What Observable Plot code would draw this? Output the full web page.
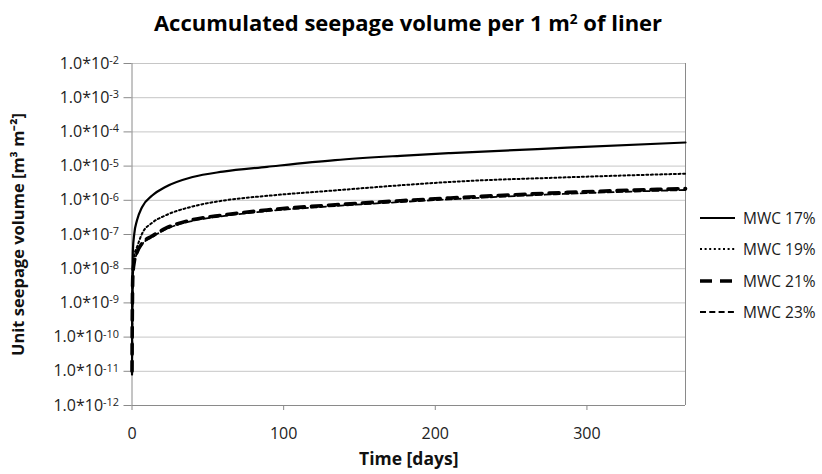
<!DOCTYPE html>
<html><head><meta charset="utf-8">
<script src="https://cdn.jsdelivr.net/npm/d3@7"></script>
<script src="https://cdn.jsdelivr.net/npm/@observablehq/plot@0.6"></script>
<style>
body{margin:0;background:#fff;font-family:"Open Sans",sans-serif;}
#fig{position:relative;width:822px;height:474px;overflow:hidden;background:#fff}
#title{position:absolute;left:131px;width:554px;top:0;height:45px;line-height:45px;text-align:center;font-weight:bold;font-size:22px;color:#000;white-space:nowrap}
#title sup{font-size:0.62em;line-height:0;vertical-align:0.55em}
#plot{position:absolute;left:0;top:45px}
.item{position:absolute;left:700px;height:20px;display:flex;align-items:center;white-space:nowrap;font-size:15.5px;color:#1a1a1a}
.item svg{margin-right:7px}
</style></head><body>
<div id="fig">
  <div id="title">Accumulated seepage volume per 1 m<sup>2</sup> of liner</div>
  <div id="plot"></div>
</div>
<script>
// ---- data ----
const seriesNames = ["MWC 17%", "MWC 19%", "MWC 21%", "MWC 23%"];
const days = [0.02, 0.1, 0.3, 0.6, 1.5, 3.3, 6.6, 13.3, 22, 40, 60, 89, 134, 177, 210, 287, 365];
const mwc17 = [8e-12, 1.5e-10, 5e-9, 3.5e-8, 1.05e-7, 2.6e-7, 6.3e-7, 1.38e-6, 2.45e-6, 4.8e-6, 6.9e-6, 9.5e-6, 1.5e-5, 2.0e-5, 2.4e-5, 3.45e-5, 4.9e-5];
const mwc19 = [1e-11, 1e-10, 2e-9, 1e-8, 2.45e-8, 4.3e-8, 1.05e-7, 2.2e-7, 3.6e-7, 6.6e-7, 9.8e-7, 1.35e-6, 1.95e-6, 2.75e-6, 3.45e-6, 4.7e-6, 6.0e-6];
const mwc21 = [1e-11, 8e-11, 1.5e-9, 7e-9, 1.6e-8, 3e-8, 5.5e-8, 9e-8, 1.5e-7, 2.7e-7, 3.7e-7, 5.2e-7, 7.4e-7, 9.7e-7, 1.17e-6, 1.7e-6, 2.2e-6];
const mwc23 = [9e-12, 7e-11, 1.3e-9, 6e-9, 1.45e-8, 2.8e-8, 5.1e-8, 8.4e-8, 1.4e-7, 2.5e-7, 3.45e-7, 4.8e-7, 6.8e-7, 8.9e-7, 1.07e-6, 1.55e-6, 2.0e-6];
const yTicks = [1e-12, 1e-11, 1e-10, 1e-9, 1e-8, 1e-7, 1e-6, 1e-5, 1e-4, 1e-3, 1e-2];
const xTicks = [0, 100, 200, 300];
const xLabel = "Time [days]";
const yLabel = "Unit seepage volume [m³ m⁻²]";

const values = [mwc17, mwc19, mwc21, mwc23];
const styles = [
  {strokeWidth: 2.2},
  {strokeWidth: 2, strokeDasharray: "2,2.6"},
  {strokeWidth: 3.6, strokeDasharray: "10,7"},
  {strokeWidth: 1.8, strokeDasharray: "6,3"}
];
const legendDash = [null, "2,2.6", "12,8", "6,3.3"];

const lineMarks = seriesNames.map((name, i) => {
  const rows = days.map((d, j) => ({series: name, day: d, value: values[i][j]}));
  return Plot.line(rows, {x: "day", y: "value", stroke: "#000", curve: "monotone-x", ...styles[i]});
});

const gridColor = "#c6c6c6";
const axisColor = "#8a8a8a";

const plot = Plot.plot({
  width: 822, height: 429,
  marginLeft: 131.5, marginRight: 137, marginTop: 18, marginBottom: 69,
  x: {domain: [0, 365]},
  y: {type: "log", domain: [1e-12, 1e-2]},
  style: {fontFamily: "Open Sans", fontSize: "15px", color: "#222", background: "#fff", overflow: "visible"},
  marks: [
    Plot.ruleY(yTicks.slice(1), {stroke: gridColor, strokeWidth: 1}),
    Plot.ruleX([365], {stroke: axisColor}),
    Plot.ruleX([0], {stroke: axisColor}),
    Plot.ruleY([1e-12], {stroke: axisColor}),
    Plot.axisY({ticks: yTicks, tickFormat: d => "1.0*10" + Math.round(Math.log10(d)), tickSize: 8, tickPadding: 5, stroke: axisColor, fill: "#222", label: null, fontSize: 16}),
    Plot.axisX({ticks: xTicks, tickFormat: d => String(d), tickSize: 5, tickPadding: 17, stroke: axisColor, fill: "#222", label: null, fontSize: 16}),
    ...lineMarks,
    Plot.text([xLabel], {text: d => d, frameAnchor: "bottom", dy: 59, fontWeight: "bold", fontSize: 17.5, fill: "#111"}),
    Plot.text([yLabel], {text: d => d, frameAnchor: "left", textAnchor: "middle", dx: -113.5, rotate: -90, fontWeight: "bold", fontSize: 16.5, fill: "#111"})
  ]
});
document.getElementById("plot").appendChild(plot);

const NS = "http://www.w3.org/2000/svg";
// superscript exponents on y tick labels
plot.querySelectorAll('g[aria-label="y-axis tick label"] text').forEach(t => {
  const m = t.textContent.match(/^(1\.0\*10)(-?\d+)$/);
  if (!m) return;
  t.textContent = "";
  const a = document.createElementNS(NS, "tspan"); a.textContent = m[1]; t.appendChild(a);
  const b = document.createElementNS(NS, "tspan"); b.textContent = m[2];
  b.setAttribute("dy", "-0.42em"); b.setAttribute("font-size", "0.68em"); t.appendChild(b);
});

// legend
const fig = document.getElementById("fig");
const legendY = [218, 249, 281, 312];
seriesNames.forEach((name, i) => {
  const div = document.createElement("div");
  div.className = "item";
  div.style.top = (legendY[i] - 10) + "px";
  const s = document.createElementNS(NS, "svg");
  s.setAttribute("width", 36); s.setAttribute("height", 10);
  const l = document.createElementNS(NS, "line");
  l.setAttribute("x1", 0); l.setAttribute("x2", 35); l.setAttribute("y1", 5); l.setAttribute("y2", 5);
  l.setAttribute("stroke", "#000");
  l.setAttribute("stroke-width", styles[i].strokeWidth);
  if (legendDash[i]) l.setAttribute("stroke-dasharray", legendDash[i]);
  s.appendChild(l);
  div.appendChild(s);
  const sp = document.createElement("span");
  sp.textContent = name;
  div.appendChild(sp);
  fig.appendChild(div);
});
</script>
</body></html>
